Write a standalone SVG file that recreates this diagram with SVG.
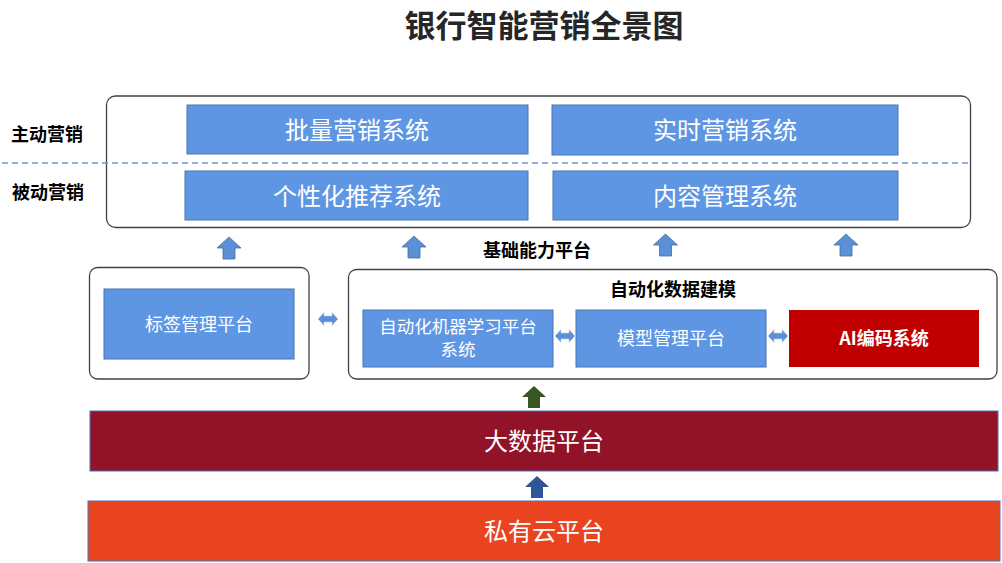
<svg xmlns="http://www.w3.org/2000/svg" xmlns:xlink="http://www.w3.org/1999/xlink" width="1002" height="563" viewBox="0 0 1002 563">
<style>
text{font-family:"Noto Sans CJK SC","Noto Sans",sans-serif;text-anchor:middle;dominant-baseline:central}
.cont{fill:#fff;stroke:#404040;stroke-width:1.3}
.blue{fill:#5f96e3;stroke:#4a74b0;stroke-width:1}
.wt{fill:#fff}
.t24{font-size:24px}
.t18{font-size:18px}
.lbl{font-size:18px;font-weight:bold;fill:#000}
.up{fill:#5b8fd6;stroke:#41719c;stroke-width:0.8}
.dbl{fill:#5b8fd6;stroke:#c9d6ea;stroke-width:0.6}
</style>
<defs>
<path id="uparrow" d="M0,0 L12,11 L6,11 L6,22 L-6,22 L-6,11 L-12,11 Z"/>
<path id="dblarrow" d="M0,0 L6,-6.5 L6,-3 L14,-3 L14,-6.5 L20,0 L14,6.5 L14,3 L6,3 L6,6.5 Z"/>
</defs>
<rect width="1002" height="563" fill="#fff"/>
<text x="544" y="23" style="font-size:31px;font-weight:bold;fill:#262626">银行智能营销全景图</text>

<g id="marketing">
<rect class="cont" x="106.5" y="96" width="864" height="131.5" rx="9"/>
<line x1="2" y1="163" x2="968" y2="163" stroke="#6f98d4" stroke-width="1.3" stroke-dasharray="6,4"/>
<text class="lbl" x="47" y="133">主动营销</text>
<text class="lbl" x="48" y="191">被动营销</text>
</g>
<g id="batch"><rect class="blue" x="187" y="105" width="341" height="49"/><text class="wt t24" x="357" y="128.5">批量营销系统</text></g>
<g id="realtime"><rect class="blue" x="552" y="105" width="346" height="50"/><text class="wt t24" x="725" y="128.5">实时营销系统</text></g>
<g id="personal"><rect class="blue" x="185" y="171" width="343" height="49"/><text class="wt t24" x="357" y="194.5">个性化推荐系统</text></g>
<g id="content"><rect class="blue" x="553" y="171" width="345" height="49"/><text class="wt t24" x="725" y="194.5">内容管理系统</text></g>

<text class="lbl" x="537" y="249">基础能力平台</text>

<g id="tagbox">
<rect class="cont" x="89.5" y="267.5" width="219.5" height="111.5" rx="8"/>
<rect class="blue" x="104" y="289" width="190" height="70"/>
<text class="wt t18" x="199" y="323">标签管理平台</text>
</g>
<g id="modeling">
<rect class="cont" x="348.5" y="269.5" width="648.5" height="109.5" rx="8"/>
<text class="lbl" x="673" y="288">自动化数据建模</text>
</g>
<g id="automl"><rect class="blue" x="363" y="310" width="190" height="57"/><text class="wt" x="458" y="325" style="font-size:17.5px">自动化机器学习平台</text><text class="wt" x="458" y="348" style="font-size:17.5px">系统</text></g>
<g id="modelmgmt"><rect class="blue" x="576" y="310" width="190" height="57"/><text class="wt t18" x="671" y="337">模型管理平台</text></g>
<g id="aicode"><rect x="789" y="310" width="190" height="57" fill="#c00000"/><text class="wt t18" x="884" y="337" style="font-weight:bold">AI编码系统</text></g>

<g id="bigdata"><rect x="90" y="411" width="908" height="60" fill="#921227" stroke="#4472c4" stroke-width="1"/><text class="wt t24" x="544" y="439.5">大数据平台</text></g>
<g id="cloud"><rect x="88" y="501" width="912" height="60" fill="#e9441f" stroke="#4472c4" stroke-width="1"/><text class="wt t24" x="544" y="529.5">私有云平台</text></g>

<g id="connectors">
<use xlink:href="#uparrow" href="#uparrow" class="up" x="229" y="237"/>
<use xlink:href="#uparrow" href="#uparrow" class="up" x="414" y="236"/>
<use xlink:href="#uparrow" href="#uparrow" class="up" x="665.5" y="234"/>
<use xlink:href="#uparrow" href="#uparrow" class="up" x="846" y="234"/>
<use xlink:href="#dblarrow" href="#dblarrow" class="dbl" x="318" y="319"/>
<use xlink:href="#dblarrow" href="#dblarrow" class="dbl" x="555" y="336"/>
<use xlink:href="#dblarrow" href="#dblarrow" class="dbl" x="768" y="336"/>
<use xlink:href="#uparrow" href="#uparrow" x="534" y="386" fill="#375623"/>
<use xlink:href="#uparrow" href="#uparrow" x="537" y="476" fill="#2f5597"/>
</g>
</svg>
